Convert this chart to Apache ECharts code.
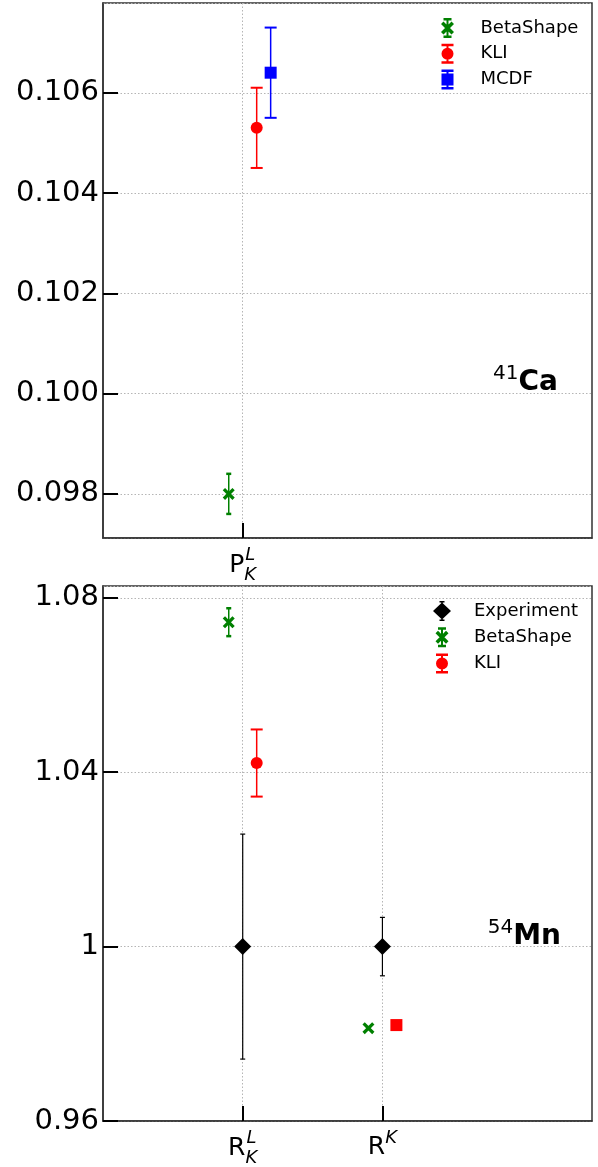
<!DOCTYPE html>
<html>
<head>
<meta charset="utf-8">
<script src="https://cdn.jsdelivr.net/npm/echarts@6/dist/echarts.min.js"></script>
<style>
  html, body { margin: 0; padding: 0; background: #fff; }
  #chart { width: 598px; height: 1167px; }
</style>
</head>
<body>
<div id="chart"></div>
<script>
// ---- data: 41Ca panel ----
const caTickPos = [1];
const caTickLabels = ['{spP|}{sup|L}\n{bP|P}{sub|K}'];
const caBetaShape = [0.0980];
const caBetaShapeErr = [0.0004];
const caKLI = [0.1053];
const caKLIErr = [0.0008];
const caMCDF = [0.1064];
const caMCDFErr = [0.0009];

// ---- data: 54Mn panel ----
const mnTickPos = [1, 2];
const mnTickLabels = ['{spR|}{sup|L}\n{bR|R}{sub|K}', '{bR|R}{sup2|K}'];
const mnExperiment = [1.000, 1.000];
const mnExperimentErr = [0.0258, 0.0067];
const mnBetaShape = [1.0744, 0.9813];
const mnBetaShapeErr = [0.0032, 0];
const mnKLI = [1.0421, 0.9820];
const mnKLIErr = [0.0077, 0];
const mnKLISymbols = ['circle', 'rect'];

const FONT = 'DejaVu Sans';
const GREEN = '#008000', RED = '#ff0000', BLUE = '#0000ff', BLACK = '#000000';
const X_PATH = 'path://M0.5,3 L3,0.5 L13.5,11 L11,13.5 Z M11,0.5 L13.5,3 L3,13.5 L0.5,11 Z';

// legend icons (marker + errorbar caps)
const ICON_X = 'path://M3,0 L11,0 L11,2.5 L3,2.5 Z M6,0 L8,0 L8,20 L6,20 Z M3,17.5 L11,17.5 L11,20 L3,20 Z M0.5,6 L3,3.5 L13.5,14 L11,16.5 Z M11,3.5 L13.5,6 L3,16.5 L0.5,14 Z';
const ICON_O = 'path://M1,0 L13,0 L13,2.5 L1,2.5 Z M6,0 L8,0 L8,20 L6,20 Z M1,17.5 L13,17.5 L13,20 L1,20 Z M1,10 A6,6 0 1,1 13,10 A6,6 0 1,1 1,10 Z';
const ICON_S = 'path://M1,0 L13,0 L13,2.5 L1,2.5 Z M6,0 L8,0 L8,20 L6,20 Z M1,17.5 L13,17.5 L13,20 L1,20 Z M1,4 L13,4 L13,16 L1,16 Z';
const ICON_D = 'path://M6.5,0 L11.5,0 L11.5,1.5 L6.5,1.5 Z M8.25,0 L9.75,0 L9.75,20 L8.25,20 Z M6.5,18.5 L11.5,18.5 L11.5,20 L6.5,20 Z M0,10 L9,1.5 L18,10 L9,18.5 Z';

function slots(pos, labels) {
  const d = ['', '', '', '', '', '', '', ''];
  pos.forEach((p, i) => { d[p * 2] = labels[i]; });
  return d;
}

const tickRich = {
  bP: { fontSize: 25, fontFamily: FONT, color: '#000', verticalAlign: 'top', height: 19, lineHeight: 19 },
  bR: { fontSize: 25, fontFamily: FONT, color: '#000', verticalAlign: 'top', height: 19, lineHeight: 19 },
  spP: { width: 15.1, height: 1, lineHeight: 1 },
  spR: { width: 17.4, height: 1, lineHeight: 1 },
  sup: { fontSize: 18, fontStyle: 'italic', fontFamily: FONT, color: '#000', width: 12, height: 1, lineHeight: 1, verticalAlign: 'top' },
  sup2: { fontSize: 18, fontStyle: 'italic', fontFamily: FONT, color: '#000', width: 12, height: 1, lineHeight: 1, verticalAlign: 'top' },
  sub: { fontSize: 18, fontStyle: 'italic', fontFamily: FONT, color: '#000', width: 12, height: 38, lineHeight: 38, verticalAlign: 'top' }
};

function catAxis(gridIndex, data) {
  const show = (i, v) => v !== '';
  return {
    type: 'category', gridIndex: gridIndex, data: data, boundaryGap: false,
    axisLine: { show: true, lineStyle: { color: '#333', width: 1.5 } },
    axisTick: { show: true, inside: true, length: 15, interval: show, lineStyle: { color: '#000', width: 2 } },
    splitLine: { show: true, interval: show, lineStyle: { color: '#b5b5b5', type: [1.5, 2], width: 1 } },
    axisLabel: { interval: show, margin: 17, rich: tickRich, formatter: v => v }
  };
}

function valAxisX(gridIndex) {
  return { type: 'value', gridIndex: gridIndex, min: 0, max: 3.5, show: false };
}

function yAxis(gridIndex, extra) {
  return Object.assign({
    type: 'value', gridIndex: gridIndex,
    axisLine: { show: true, lineStyle: { color: '#333', width: 1.5 } },
    axisTick: { show: true, inside: true, length: 15, lineStyle: { color: '#000', width: 2 } },
    splitLine: { show: true, lineStyle: { color: '#b5b5b5', type: [1.5, 2], width: 1 } }
  }, extra);
}

function errorBars(name, xAxisIndex, yAxisIndex, xs, ys, errs, color, capHalf, lw, capW) {
  return {
    type: 'custom', name: name, xAxisIndex: xAxisIndex, yAxisIndex: yAxisIndex,
    data: xs.map((x, i) => [x, ys[i], errs[i]]),
    encode: { x: 0, y: 1 },
    z: 2,
    renderItem: function (params, api) {
      const x = api.value(0), y = api.value(1), e = api.value(2);
      if (!e) return { type: 'group', children: [] };
      const hi = api.coord([x, y + e]);
      const lo = api.coord([x, y - e]);
      const st = { stroke: color, lineWidth: lw };
      const cs = { stroke: color, lineWidth: capW };
      return {
        type: 'group', children: [
          { type: 'line', shape: { x1: hi[0], y1: hi[1], x2: lo[0], y2: lo[1] }, style: st },
          { type: 'line', shape: { x1: hi[0] - capHalf, y1: hi[1], x2: hi[0] + capHalf, y2: hi[1] }, style: cs },
          { type: 'line', shape: { x1: lo[0] - capHalf, y1: lo[1], x2: lo[0] + capHalf, y2: lo[1] }, style: cs }
        ]
      };
    }
  };
}

function markers(name, xAxisIndex, yAxisIndex, xs, ys, symbol, size, color) {
  return {
    type: 'scatter', name: name, xAxisIndex: xAxisIndex, yAxisIndex: yAxisIndex,
    data: xs.map((x, i) => Array.isArray(symbol)
      ? { value: [x, ys[i]], symbol: symbol[i] } : [x, ys[i]]),
    symbol: Array.isArray(symbol) ? undefined : symbol,
    symbolSize: size,
    itemStyle: { color: color, opacity: 1 },
    z: 3
  };
}

const shift = (arr, d) => arr.map(p => p + d);

const yLabel = { fontSize: 29, fontFamily: FONT, color: '#000', margin: 4 };

const option = {
  animation: false,
  backgroundColor: '#fff',
  grid: [
    { left: 103, top: 3, width: 489, height: 535, show: true, borderColor: '#333', borderWidth: 1.5, outerBoundsMode: 'none', containLabel: false },
    { left: 103, top: 586, width: 489, height: 535, show: true, borderColor: '#333', borderWidth: 1.5, outerBoundsMode: 'none', containLabel: false }
  ],
  xAxis: [
    catAxis(0, slots(caTickPos, caTickLabels)),
    valAxisX(0),
    catAxis(1, slots(mnTickPos, mnTickLabels)),
    valAxisX(1)
  ],
  yAxis: [
    yAxis(0, { min: 0.09712, max: 0.10779, splitNumber: 5,
      axisLabel: Object.assign({ showMinLabel: false, showMaxLabel: false, formatter: v => v.toFixed(3) }, yLabel) }),
    yAxis(1, { min: 0.96, max: 1.0827, interval: 0.04,
      axisLabel: Object.assign({ showMinLabel: true, showMaxLabel: false, formatter: v => String(+v.toFixed(2)) }, yLabel) })
  ],
  legend: [
    {
      orient: 'vertical', left: 436, top: 13, itemWidth: 14, itemHeight: 20, itemGap: 5.8,
      textStyle: { fontSize: 18, fontFamily: FONT, color: '#000', rich: { g: { width: 21 } } },
      formatter: n => '{g|}' + n, selectedMode: false,
      data: [
        { name: 'BetaShape', icon: ICON_X, itemStyle: { color: GREEN } },
        { name: 'KLI', icon: ICON_O, itemStyle: { color: RED } },
        { name: 'MCDF', icon: ICON_S, itemStyle: { color: BLUE } }
      ]
    },
    {
      orient: 'vertical', left: 428, top: 596, itemWidth: 18, itemHeight: 20, itemGap: 6.3,
      textStyle: { fontSize: 18, fontFamily: FONT, color: '#000', rich: { g: { width: 18 } } },
      formatter: n => '{g|}' + n, selectedMode: false,
      data: [
        { name: 'Experiment', icon: ICON_D, itemStyle: { color: BLACK } },
        { name: 'BetaShape', icon: ICON_X, itemStyle: { color: GREEN } },
        { name: 'KLI', icon: ICON_O, itemStyle: { color: RED } }
      ]
    }
  ],
  graphic: [
    { type: 'text', x: 558, y: 368, style: {
      text: '{sup|41}{b|Ca}', align: 'right', verticalAlign: 'top',
      rich: {
        sup: { fontSize: 20, fontFamily: FONT, color: '#000', verticalAlign: 'top', height: 12, lineHeight: 12 },
        b: { fontSize: 28, fontWeight: 'bold', fontFamily: FONT, color: '#000', height: 30, lineHeight: 30 }
      } } },
    { type: 'text', x: 561, y: 922, style: {
      text: '{sup|54}{b|Mn}', align: 'right', verticalAlign: 'top',
      rich: {
        sup: { fontSize: 20, fontFamily: FONT, color: '#000', verticalAlign: 'top', height: 12, lineHeight: 12 },
        b: { fontSize: 28, fontWeight: 'bold', fontFamily: FONT, color: '#000', height: 30, lineHeight: 30 }
      } } }
  ],
  series: [
    // 41Ca
    errorBars('BetaShape', 1, 0, shift(caTickPos, -0.1), caBetaShape, caBetaShapeErr, GREEN, 2.5, 1.5, 2.5),
    markers('BetaShape', 1, 0, shift(caTickPos, -0.1), caBetaShape, X_PATH, 12, GREEN),
    errorBars('KLI', 1, 0, shift(caTickPos, 0.1), caKLI, caKLIErr, RED, 6, 1.5, 2),
    markers('KLI', 1, 0, shift(caTickPos, 0.1), caKLI, 'circle', 12, RED),
    errorBars('MCDF', 1, 0, shift(caTickPos, 0.2), caMCDF, caMCDFErr, BLUE, 6, 1.5, 2),
    markers('MCDF', 1, 0, shift(caTickPos, 0.2), caMCDF, 'rect', 12, BLUE),
    // 54Mn
    errorBars('Experiment', 3, 1, mnTickPos, mnExperiment, mnExperimentErr, BLACK, 2.5, 1.2, 1.2),
    markers('Experiment', 3, 1, mnTickPos, mnExperiment, 'diamond', 17, BLACK),
    errorBars('BetaShape', 3, 1, shift(mnTickPos, -0.1), mnBetaShape, mnBetaShapeErr, GREEN, 2.5, 1.5, 2.5),
    markers('BetaShape', 3, 1, shift(mnTickPos, -0.1), mnBetaShape, X_PATH, 12, GREEN),
    errorBars('KLI', 3, 1, shift(mnTickPos, 0.1), mnKLI, mnKLIErr, RED, 6, 1.5, 2),
    markers('KLI', 3, 1, shift(mnTickPos, 0.1), mnKLI, mnKLISymbols, 12, RED)
  ]
};

const chart = echarts.init(document.getElementById('chart'), null, { renderer: 'canvas' });
chart.setOption(option);
</script>
</body>
</html>
